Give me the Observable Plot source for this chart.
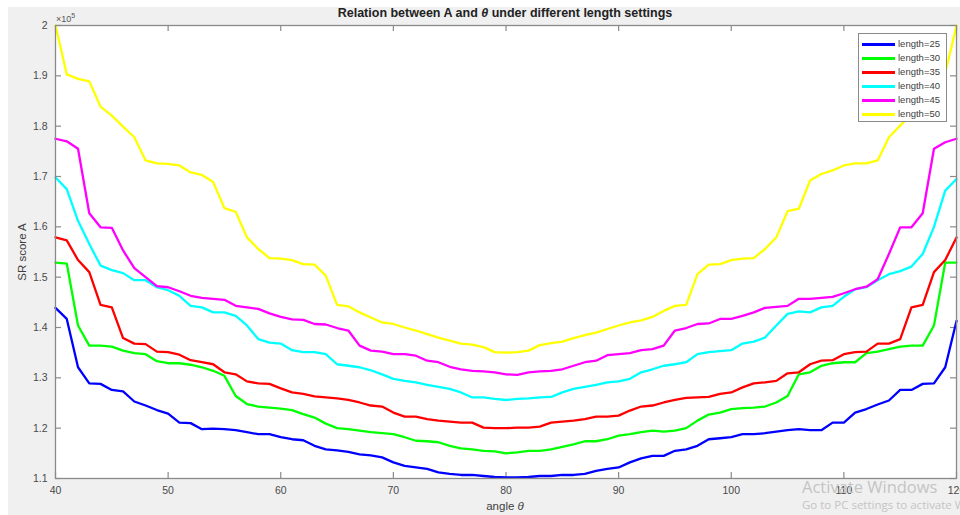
<!DOCTYPE html>
<html>
<head>
<meta charset="utf-8">
<script src="https://cdn.jsdelivr.net/npm/d3@7"></script>
<script src="https://cdn.jsdelivr.net/npm/@observablehq/plot@0.6"></script>
<style>
  body { margin: 0; background: #fff; font-family: "Liberation Sans", Arial, sans-serif; }
  #wrap { position: relative; width: 960px; height: 515px; overflow: hidden; background: #fff; }
  #bg { position: absolute; left: 8px; top: 7px; right: 0; bottom: 0; background: #f0f0f0; }
  #chart { position: absolute; left: 0; top: 0; }
  .abs { position: absolute; white-space: nowrap; }
  #title { left: 305px; width: 400px; top: 6px; text-align: center; font-weight: bold; font-size: 12.5px; color: #222; }
  #expo { left: 56px; top: 12px; font-size: 9px; color: #555; }
  #expo sup { font-size: 7px; vertical-align: 4px; }
  #ylab { left: 22px; top: 252px; transform: translate(-50%, -50%) rotate(-90deg); font-size: 11.5px; color: #404040; }
  #xlab { left: 455px; width: 100px; top: 500px; text-align: center; font-size: 11.5px; color: #404040; }
  #legend { left: 858px; top: 33px; width: 87px; height: 87px; border: 1px solid #8a8a8a; background: #fff; }
  .lrow { position: absolute; left: 0; height: 14px; width: 87px; }
  .lline { position: absolute; left: 3px; top: 6px; width: 33px; height: 3px; }
  .ltext { position: absolute; left: 39px; top: 1px; font-size: 9.5px; color: #404040; }
  #wm1 { left: 802px; top: 475px; font-size: 16.5px; color: #c4c4c4; font-family: "Open Sans", "Liberation Sans", sans-serif; }
  #wm2 { left: 802px; top: 497px; font-size: 11.5px; color: #c4c4c4; font-family: "Open Sans", "Liberation Sans", sans-serif; }
</style>
</head>
<body>
<div id="wrap">
  <div id="bg"></div>
  <div id="chart"></div>
  <div id="title" class="abs">Relation between A and <i>θ</i> under different length settings</div>
  <div id="expo" class="abs">×10<sup>5</sup></div>
  <div id="ylab" class="abs">SR score A</div>
  <div id="xlab" class="abs">angle <i>θ</i></div>
  <div id="legend" class="abs"></div>
  <div id="wm1" class="abs">Activate Windows</div>
  <div id="wm2" class="abs">Go to PC settings to activate Windows.</div>
</div>
<script>
// angle θ (degrees), one reading per degree
const angles = d3.range(40, 121);

const seriesNames = ["length=25", "length=30", "length=35", "length=40", "length=45", "length=50"];
const seriesColors = ["#0000ff", "#00ff00", "#ff0000", "#00ffff", "#ff00ff", "#ffff00"];

// SR score A, in units of 10^5
const len25 = [1.439,1.417,1.321,1.289,1.288,1.276,1.273,1.253,1.245,1.236,
  1.229,1.211,1.210,1.198,1.199,1.198,1.196,1.192,1.188,1.188,
  1.182,1.178,1.176,1.165,1.158,1.156,1.153,1.148,1.146,1.142,
  1.132,1.125,1.122,1.119,1.112,1.109,1.107,1.107,1.105,1.103,
  1.102,1.102,1.103,1.105,1.105,1.107,1.107,1.109,1.115,1.119,
  1.122,1.132,1.140,1.145,1.145,1.155,1.158,1.165,1.178,1.180,
  1.182,1.188,1.188,1.190,1.193,1.196,1.198,1.196,1.196,1.211,
  1.211,1.231,1.238,1.247,1.255,1.276,1.276,1.288,1.289,1.321,1.413];
const len30 = [1.529,1.527,1.404,1.364,1.364,1.362,1.354,1.349,1.347,1.333,
  1.329,1.329,1.326,1.321,1.314,1.304,1.264,1.248,1.243,1.241,
  1.239,1.236,1.228,1.221,1.209,1.200,1.198,1.195,1.192,1.190,
  1.188,1.182,1.175,1.174,1.172,1.165,1.160,1.158,1.155,1.154,
  1.150,1.152,1.155,1.155,1.158,1.163,1.168,1.174,1.174,1.178,
  1.185,1.188,1.192,1.195,1.193,1.195,1.200,1.215,1.227,1.231,
  1.238,1.240,1.241,1.243,1.251,1.264,1.307,1.311,1.324,1.329,
  1.331,1.331,1.349,1.352,1.357,1.362,1.364,1.364,1.404,1.529,1.529];
const len35 = [1.579,1.573,1.534,1.510,1.445,1.440,1.379,1.368,1.367,1.352,
  1.351,1.346,1.335,1.331,1.327,1.311,1.307,1.293,1.289,1.288,
  1.279,1.271,1.268,1.263,1.261,1.259,1.256,1.251,1.245,1.243,
  1.231,1.223,1.223,1.218,1.215,1.213,1.211,1.211,1.201,1.200,
  1.200,1.201,1.201,1.203,1.211,1.213,1.215,1.218,1.223,1.223,
  1.225,1.235,1.243,1.245,1.251,1.256,1.260,1.261,1.262,1.268,
  1.271,1.281,1.289,1.291,1.294,1.309,1.311,1.327,1.334,1.335,
  1.347,1.351,1.352,1.368,1.368,1.377,1.440,1.445,1.510,1.534,1.579];
const len40 = [1.698,1.675,1.612,1.566,1.523,1.514,1.508,1.494,1.494,1.480,
  1.474,1.463,1.443,1.440,1.430,1.430,1.423,1.404,1.377,1.370,
  1.368,1.355,1.351,1.351,1.347,1.327,1.324,1.321,1.315,1.307,
  1.298,1.294,1.291,1.286,1.282,1.278,1.271,1.261,1.261,1.258,
  1.256,1.258,1.259,1.261,1.262,1.271,1.278,1.282,1.286,1.291,
  1.293,1.298,1.311,1.317,1.324,1.327,1.331,1.347,1.351,1.353,
  1.355,1.368,1.372,1.380,1.404,1.427,1.432,1.430,1.440,1.443,
  1.461,1.476,1.480,1.494,1.506,1.512,1.521,1.546,1.600,1.672,1.695];
const len45 = [1.775,1.770,1.755,1.627,1.599,1.598,1.553,1.518,1.500,1.482,
  1.480,1.472,1.463,1.459,1.457,1.455,1.443,1.440,1.437,1.428,
  1.421,1.416,1.415,1.407,1.406,1.399,1.394,1.364,1.354,1.352,
  1.347,1.347,1.344,1.334,1.331,1.322,1.317,1.314,1.313,1.311,
  1.307,1.306,1.311,1.313,1.314,1.317,1.324,1.331,1.334,1.345,
  1.347,1.349,1.355,1.357,1.364,1.394,1.399,1.407,1.408,1.417,
  1.417,1.423,1.430,1.439,1.441,1.443,1.457,1.457,1.459,1.461,
  1.468,1.476,1.481,1.496,1.546,1.599,1.599,1.627,1.755,1.768,1.775];
const len50 = [2.000,1.903,1.894,1.889,1.839,1.821,1.799,1.778,1.732,1.726,
  1.725,1.722,1.708,1.703,1.689,1.637,1.630,1.579,1.556,1.538,
  1.537,1.534,1.526,1.525,1.503,1.445,1.442,1.430,1.420,1.410,
  1.407,1.400,1.394,1.387,1.380,1.374,1.368,1.366,1.361,1.351,
  1.350,1.351,1.354,1.365,1.369,1.372,1.379,1.385,1.390,1.397,
  1.404,1.410,1.414,1.421,1.433,1.443,1.445,1.506,1.525,1.526,
  1.534,1.537,1.538,1.556,1.579,1.631,1.636,1.692,1.705,1.712,
  1.722,1.726,1.726,1.732,1.778,1.801,1.825,1.845,1.889,1.905,2.000];

const xTicks = [40, 50, 60, 70, 80, 90, 100, 110, 120];
const yTicks = [1.1, 1.2, 1.3, 1.4, 1.5, 1.6, 1.7, 1.8, 1.9, 2.0];
const yTickLabels = ["1.1", "1.2", "1.3", "1.4", "1.5", "1.6", "1.7", "1.8", "1.9", "2"];

const allSeries = [len25, len30, len35, len40, len45, len50];
const data = allSeries.flatMap((vals, s) =>
  vals.map((v, i) => ({angle: angles[i], score: v, series: seriesNames[s]})));

const W = 960, H = 515, mL = 55, mR = 4, mT = 25, mB = 37;
const plotW = W - mL - mR, plotH = H - mT - mB, tickLen = 6;
const axisColor = "#8a8a8a";
const chart = Plot.plot({
  width: W,
  height: H,
  marginLeft: mL,
  marginRight: mR,
  marginTop: mT,
  marginBottom: mB,
  style: {background: "transparent", fontFamily: "'Liberation Sans', Arial, sans-serif", fontSize: "10.5px", color: "#4a4a4a", overflow: "visible"},
  x: {domain: [40, 120], label: null},
  y: {domain: [1.1, 2.0], label: null},
  color: {domain: seriesNames, range: seriesColors},
  marks: [
    Plot.frame({fill: "white", stroke: null}),
    // inward ticks on all four sides (MATLAB box style)
    Plot.tickX(xTicks, {x: d => d, stroke: axisColor, strokeWidth: 1.2, insetTop: plotH - tickLen}),
    Plot.tickX(xTicks, {x: d => d, stroke: axisColor, strokeWidth: 1.2, insetBottom: plotH - tickLen}),
    Plot.tickY(yTicks, {y: d => d, stroke: axisColor, strokeWidth: 1.2, insetRight: plotW - tickLen}),
    Plot.tickY(yTicks, {y: d => d, stroke: axisColor, strokeWidth: 1.2, insetLeft: plotW - tickLen}),
    Plot.line(data, {x: "angle", y: "score", z: "series", stroke: "series", strokeWidth: 2.3}),
    Plot.frame({stroke: axisColor, strokeWidth: 1.3}),
    Plot.axisX({anchor: "bottom", ticks: xTicks, tickSize: 0, tickPadding: 8, tickFormat: d => String(d), label: null}),
    Plot.axisY({anchor: "left", ticks: yTicks, tickSize: 0, tickPadding: 8, tickFormat: d => yTickLabels[yTicks.indexOf(d)], label: null})
  ]
});
document.getElementById("chart").appendChild(chart);

// legend
const legend = document.getElementById("legend");
seriesNames.forEach((name, i) => {
  const row = document.createElement("div");
  row.className = "lrow";
  row.style.top = (2.7 + i * 14.1) + "px";
  const ln = document.createElement("div");
  ln.className = "lline";
  ln.style.background = seriesColors[i];
  const tx = document.createElement("div");
  tx.className = "ltext";
  tx.textContent = name;
  row.appendChild(ln);
  row.appendChild(tx);
  legend.appendChild(row);
});
</script>
</body>
</html>
